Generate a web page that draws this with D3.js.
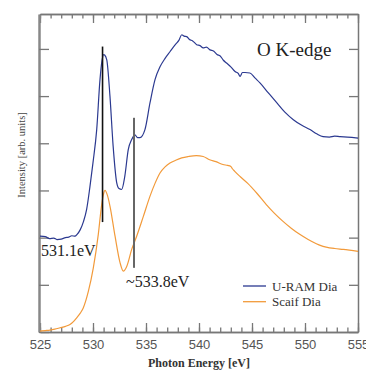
<!DOCTYPE html>
<html>
<head>
<meta charset="utf-8">
<script src="https://cdn.jsdelivr.net/npm/d3@7"></script>
<style>
  html, body { margin: 0; padding: 0; background: #fff; }
  svg { display: block; }
</style>
</head>
<body>
<svg id="chart" width="366" height="371"></svg>
<script>
// ---- data ----
const xMajorTicks = [525, 530, 535, 540, 545, 550, 555];
const xMinorTicks = d3.range(525, 556, 1);
const yTicks = [0, 1, 2, 3, 4, 5, 6];

const uramE = [525.0, 525.5, 525.9, 526.3, 526.6, 527.0, 527.4, 527.7, 528.0, 528.3, 528.5, 528.8, 529.1, 529.4, 529.7,
  530.0, 530.35, 530.66, 530.85, 531.0, 531.1, 531.3, 531.6, 531.9, 532.24, 532.45, 532.7, 533.0, 533.33, 533.65, 533.96,
  534.2, 534.43, 534.9, 535.38, 535.85, 536.32, 536.8, 537.26, 537.8, 538.1, 538.37, 538.6, 538.84, 539.1, 539.4, 539.78,
  540.1, 540.4, 540.7, 541.04, 541.4, 541.7, 542.0, 542.3, 542.6, 543.0, 543.4, 543.7, 543.87, 544.1, 544.34, 544.8,
  545.3, 545.75, 546.5, 547.33, 548.1, 548.9, 549.7, 550.47, 551.1, 551.7, 552.3, 552.8, 553.3, 554.0, 555.0];
const uramI = [2.03, 2.02, 1.98, 1.99, 1.96, 1.97, 2.0, 2.01, 2.04, 2.03, 2.07, 2.17, 2.34, 2.6, 3.06,
  3.59, 4.29, 5.35, 5.75, 5.88, 5.87, 5.77, 5.0, 3.94, 3.16, 3.04, 3.02, 3.3, 3.87, 4.08, 4.18,
  4.12, 4.12, 4.29, 4.86, 5.35, 5.62, 5.8, 5.94, 6.1, 6.18, 6.3, 6.27, 6.26, 6.2, 6.17, 6.09,
  6.07, 6.02, 6.04, 5.98, 5.95, 5.88, 5.85, 5.76, 5.7, 5.62, 5.52, 5.48, 5.42, 5.5, 5.5, 5.49,
  5.38, 5.28, 5.08, 4.86, 4.66, 4.5, 4.38, 4.29, 4.2, 4.14, 4.13, 4.15, 4.14, 4.13, 4.11];

const scaifE = [525.0, 525.5, 525.94, 526.4, 526.9, 527.4, 527.83, 528.15, 528.46, 528.8, 529.08, 529.56, 530.03, 530.5,
  530.82, 531.0, 531.13, 531.37, 531.6, 532.08, 532.55, 532.86, 533.18, 533.65, 534.12, 534.75, 535.38, 535.85,
  536.32, 536.8, 537.26, 537.8, 538.37, 539.0, 539.75, 540.4, 541.0, 541.6, 542.26, 542.7, 543.0, 543.15, 543.35,
  543.9, 544.6, 545.5, 546.35, 547.1, 547.9, 548.7, 549.5, 550.3, 551.07, 551.5, 552.0, 552.8, 553.6, 555.0];
const scaifI = [0.02, 0.03, 0.04, 0.06, 0.09, 0.12, 0.16, 0.22, 0.3, 0.4, 0.51, 0.86, 1.36, 2.07,
  2.7, 2.93, 3.0, 2.89, 2.67, 2.03, 1.47, 1.29, 1.39, 1.75, 2.03, 2.45, 2.88, 3.15,
  3.37, 3.5, 3.58, 3.64, 3.69, 3.72, 3.74, 3.72, 3.65, 3.61, 3.55, 3.53, 3.51, 3.46, 3.41,
  3.29, 3.15, 2.93, 2.7, 2.52, 2.35, 2.2, 2.07, 1.96, 1.87, 1.83, 1.8, 1.77, 1.75, 1.71];

const seriesNames = ["U-RAM Dia", "Scaif Dia"];
const seriesColors = ["#2b3990", "#f29a3a"];

const markerE = [530.9, 533.87];
const markerTop = [6.05, 4.54];
const markerBottom = [2.33, 1.36];
const markerLabels = ["531.1eV", "~533.8eV"];

// ---- layout ----
const svg = d3.select("#chart");
const L = 40, R = 358, T = 14, B = 332;
const x = d3.scaleLinear().domain([525, 555]).range([L, R]);
const y = d3.scaleLinear().domain([0, 6.74]).range([B, T]);

const tickColor = "#777";

function styleAxis(g) {
  g.selectAll(".domain").attr("stroke", tickColor).attr("stroke-width", 1.5);
  g.selectAll(".tick line").attr("stroke", tickColor).attr("stroke-width", 1.3);
}

// bottom axis (minor + major, inward)
svg.append("g").attr("transform", `translate(0,${B})`)
  .call(d3.axisBottom(x).tickValues(xMinorTicks).tickSize(-4.5).tickFormat("").tickSizeOuter(0))
  .call(styleAxis);
const bottomMajor = svg.append("g").attr("transform", `translate(0,${B})`)
  .call(d3.axisBottom(x).tickValues(xMajorTicks).tickSize(-9).tickFormat(d3.format("d")).tickSizeOuter(0).tickPadding(8))
  .call(styleAxis);
bottomMajor.selectAll(".tick text")
  .attr("font-family", "Liberation Sans, Arial, sans-serif")
  .attr("font-size", 13).attr("fill", "#555");

// top axis
svg.append("g").attr("transform", `translate(0,${T})`)
  .call(d3.axisTop(x).tickValues(xMinorTicks).tickSize(-4.5).tickFormat("").tickSizeOuter(0))
  .call(styleAxis);
svg.append("g").attr("transform", `translate(0,${T})`)
  .call(d3.axisTop(x).tickValues(xMajorTicks).tickSize(-9).tickFormat("").tickSizeOuter(0))
  .call(styleAxis);

// left axis
svg.append("g").attr("transform", `translate(${L - 1},0)`)
  .call(d3.axisLeft(y).tickValues(yTicks).tickSize(-10).tickFormat("").tickSizeOuter(0))
  .call(styleAxis)
  .call(g => g.select(".domain").attr("stroke-width", 2.5).attr("stroke", "#888"));

// right axis
svg.append("g").attr("transform", `translate(${R},0)`)
  .call(d3.axisRight(y).tickValues(yTicks).tickSize(-9).tickFormat("").tickSizeOuter(0))
  .call(styleAxis);

// series
const line = d3.line().x(d => x(d[0])).y(d => y(d[1])).curve(d3.curveMonotoneX);
const uram = uramE.map((e, i) => [e, uramI[i]]);
const scaif = scaifE.map((e, i) => [e, scaifI[i]]);

svg.append("path").datum(scaif).attr("d", line)
  .attr("fill", "none").attr("stroke", seriesColors[1]).attr("stroke-width", 1.2);
svg.append("path").datum(uram).attr("d", line)
  .attr("fill", "none").attr("stroke", seriesColors[0]).attr("stroke-width", 1.2);

// marker lines
const mColors = ["#111", "#666"];
const mWidths = [1.6, 2];
markerE.forEach((e, i) => {
  svg.append("line")
    .attr("x1", x(e)).attr("x2", x(e))
    .attr("y1", y(markerTop[i])).attr("y2", y(markerBottom[i]))
    .attr("stroke", mColors[i]).attr("stroke-width", mWidths[i]);
});

const serif = "Liberation Serif, Times New Roman, serif";
svg.append("text").attr("x", 41).attr("y", 256)
  .attr("font-family", serif).attr("font-size", 16).attr("fill", "#222")
  .text(markerLabels[0]);
svg.append("text").attr("x", 126).attr("y", 287)
  .attr("font-family", serif).attr("font-size", 16).attr("fill", "#222")
  .text(markerLabels[1]);

// title inside
svg.append("text").attr("x", 257).attr("y", 56)
  .attr("font-family", serif).attr("font-size", 19).attr("fill", "#222")
  .text("O K-edge");

// legend
seriesNames.forEach((n, i) => {
  const ly = 286 + i * 15.7;
  svg.append("line").attr("x1", 243).attr("x2", 266).attr("y1", ly).attr("y2", ly)
    .attr("stroke", seriesColors[i]).attr("stroke-width", 1.3);
  svg.append("text").attr("x", 272).attr("y", ly + 4.5)
    .attr("font-family", serif).attr("font-size", 13).attr("fill", "#333")
    .text(n);
});

// axis titles
svg.append("text").attr("x", (L + R) / 2).attr("y", 367).attr("text-anchor", "middle")
  .attr("font-family", serif).attr("font-size", 12).attr("font-weight", "bold").attr("fill", "#333")
  .text("Photon Energy [eV]");
svg.append("text")
  .attr("transform", `translate(25,155) rotate(-90)`)
  .attr("text-anchor", "middle")
  .attr("font-family", serif).attr("font-size", 10.5).attr("fill", "#444")
  .text("Intensity [arb. units]");
</script>
</body>
</html>
